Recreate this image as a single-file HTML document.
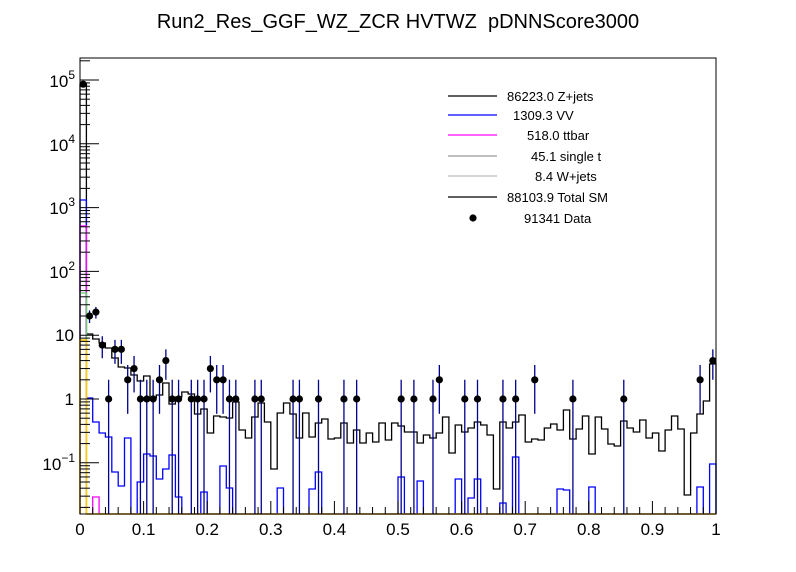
<!DOCTYPE html>
<html><head><meta charset="utf-8"><style>
html,body{margin:0;padding:0;background:#fff;}
svg{display:block;font-family:"Liberation Sans",sans-serif;}
</style></head><body>
<svg id="s" width="796" height="572" viewBox="0 0 796 572" xmlns="http://www.w3.org/2000/svg">
<rect width="796" height="572" fill="#fff"/>
<text x="398" y="28" font-size="20" text-anchor="middle">Run2_Res_GGF_WZ_ZCR HVTWZ&#160; pDNNScore3000</text>
<g id="g"></g>
</svg>
<script>
var g=document.getElementById('g');var NS='http://www.w3.org/2000/svg';
function el(t,a,txt){var e=document.createElementNS(NS,t);for(var k in a)e.setAttribute(k,a[k]);if(txt!==undefined)e.textContent=txt;g.appendChild(e);return e;}
var L=80,R=716,T=58,B=514,W=6.36;
function yv(v){return 399-63.8*Math.log10(v);}
var blk=[84,334,339,343,348,358,367,368,375,381,376,398,395,383,404,397,392,394,414,409,433,416,417,418,402,430,438,417,403,422,469,413,403,414,438,413,437,423,419,439,438,423,443,430,443,433,442,423,440,423,
426,432,432,443,435,438,433,417,453,425,432,428,422,425,435,489,422,428,422,415,442,439,440,428,424,430,410,439,429,416,454,417,429,444,446,421,428,432,420,438,433,451,430,416,429,495,433,414,401,364];
var blu=[];for(var i=0;i<100;i++)blu.push(B);
var bs={0:200,1:398,2:422,3:433,4:437,5:472,6:486,7:438,9:482,10:454,11:456,12:479,13:469,14:455,15:497,19:492,22:466,23:488,31:488,36:489,37:472,50:477,53:481,59:479,61:498,62:479,66:503,68:457,75:489,76:490,80:487,97:487,99:464};
for(var k in bs)blu[k]=bs[k];
var mag=[];for(i=0;i<100;i++)mag.push(B);mag[0]=226;mag[2]=497;
var grn=[];for(i=0;i<100;i++)grn.push(B);grn[0]=293;
var yel=[];for(i=0;i<100;i++)yel.push(B);yel[0]=340;
function hist(a,c,w){var d='M'+L+','+B;for(var i=0;i<100;i++){var x0=L+W*i,x1=L+W*(i+1);d+=' L'+x0.toFixed(1)+','+a[i]+' L'+x1.toFixed(1)+','+a[i];}d+=' L'+R+','+B;el('path',{d:d,fill:'none',stroke:c,'stroke-width':w||1.3});}
hist(blk,'#000');hist(blu,'#0000ff');hist(mag,'#ff00ff');hist(grn,'#66cc66');hist(yel,'#ffcc00',1.6);
var pts=[[0,86000],[1,20],[2,23],[3,7],[4,1],[5,6],[6,6],[7,2],[8,3],[9,1],[10,1],[11,1],[12,2],[13,4],[14,1],[15,1],[17,1],[18,1],[19,1],[20,3],[21,2],[22,2],[23,1],[24,1],[27,1],[28,1],[33,1],[34,1],[37,1],[41,1],[43,1],[50,1],[52,1],[55,1],[56,2],[60,1],[62,1],[66,1],[68,1],[71,2],[77,1],[85,1],[97,2],[99,4]];
pts.forEach(function(p){var x=L+W*(p[0]+0.5),n=p[1],s=Math.sqrt(n);var yt=yv(n+s),yb=(n-s)>0.0157?yv(n-s):B;var y=yv(n);
el('line',{x1:x,x2:x,y1:yt,y2:yb,stroke:'#00008b','stroke-width':1.3});
el('line',{x1:x-3,x2:x+3,y1:y,y2:y,stroke:'#00008b','stroke-width':1.3});
el('circle',{cx:x,cy:y,r:3.6,fill:'#000'});});
el('rect',{x:L,y:T,width:R-L,height:B-T,fill:'none',stroke:'#000','stroke-width':1});
for(i=0;i<=50;i++){var x=L+(R-L)*i/50;var len=(i%5==0)?13:7;el('line',{x1:x,x2:x,y1:B,y2:B-len,stroke:'#000','stroke-width':1});}
var xl=['0','0.1','0.2','0.3','0.4','0.5','0.6','0.7','0.8','0.9','1'];
for(i=0;i<=10;i++)el('text',{x:L+(R-L)*i/10,y:535,'font-size':17,'text-anchor':'middle'},xl[i]);
for(var e=-2;e<=5;e++){for(var m=1;m<10;m++){var v=m*Math.pow(10,e);var y=yv(v);if(y<T||y>B)continue;var len=m==1?19:10;el('line',{x1:L,x2:L+len,y1:y,y2:y,stroke:'#000','stroke-width':1});}}
function sup(x,y,base,ex){var t=el('text',{x:x,y:y,'font-size':17,'text-anchor':'end'});t.textContent='';var a=document.createElementNS(NS,'tspan');a.textContent=base;t.appendChild(a);if(ex){var b=document.createElementNS(NS,'tspan');b.setAttribute('dy','-8');b.setAttribute('font-size','12');b.textContent=ex;t.appendChild(b);}}
sup(75,87,'10','5');sup(75,151,'10','4');sup(75,214,'10','3');sup(75,278,'10','2');sup(74,341,'10');sup(74,405,'1');sup(75,470,'10','\u22121');
var lg=[[96,'#000','86223.0 Z+jets',507],[115,'#0000ff','1309.3 VV',513],[135,'#ff00ff','518.0 ttbar',527],[156,'#999','45.1 single t',531],[176,'#bbb','8.4 W+jets',535],[197,'#000','88103.9 Total SM',507],[218,null,'91341 Data',524]];
lg.forEach(function(r){if(r[1])el('line',{x1:448,x2:497,y1:r[0],y2:r[0],stroke:r[1],'stroke-width':1.2});else el('circle',{cx:473,cy:r[0],r:3.6,fill:'#000'});el('text',{x:r[3],y:r[0]+5,'font-size':13},r[2]);});
</script>
</body></html>
